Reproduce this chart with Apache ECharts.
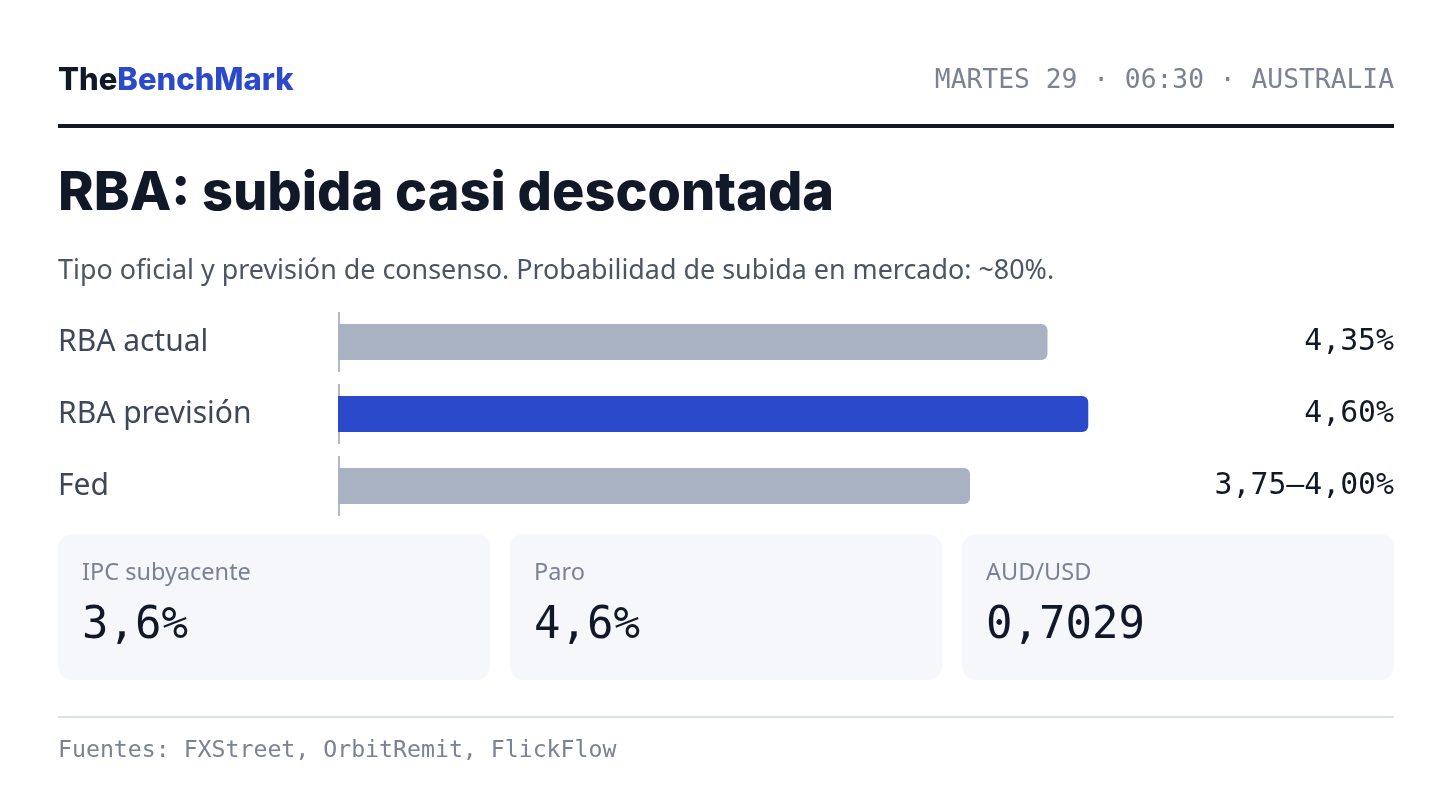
<!DOCTYPE html>
<html>
<head>
<meta charset="utf-8">
<script src="https://cdn.jsdelivr.net/npm/echarts@6/dist/echarts.min.js"></script>
<style>
html,body{margin:0;padding:0;background:#ffffff;}
#chart{width:1452px;height:806px;}
</style>
</head>
<body>
<div id="chart"></div>
<script>
// ---- data ----
var categories = ['RBA actual', 'RBA previsión', 'Fed'];
var rateValues = [4.35, 4.60, 3.875];
var valueLabels = ['4,35%', '4,60%', '3,75–4,00%'];
var barColors = ['#a9b2c2', '#2b4acb', '#a9b2c2'];
var cardLabels = ['IPC subyacente', 'Paro', 'AUD/USD'];
var cardValues = ['3,6%', '4,6%', '0,7029'];
var headerDate = 'MARTES 29 · 06:30 · AUSTRALIA';
var titleText = 'RBA: subida casi descontada';
var subtitleText = 'Tipo oficial y previsión de consenso. Probabilidad de subida en mercado: ~80%.';
var sourceText = 'Fuentes: FXStreet, OrbitRemit, FlickFlow';

var SANS = 'Noto Sans, sans-serif';
var BOLD = 'Inter, sans-serif';
var MONO = 'DejaVu Sans Mono, monospace';

var chart = echarts.init(document.getElementById('chart'), null, {renderer: 'canvas'});

var graphics = [
  {type: 'text', position: [58, 81], z: 10,
   style: {rich: {a: {fill: '#111827', font: '800 31px ' + BOLD}, b: {fill: '#2b4acb', font: '800 31px ' + BOLD}},
           text: '{a|The}{b|BenchMark}', verticalAlign: 'middle', align: 'left'}},
  {type: 'text', position: [1394, 81.5],
   style: {text: headerDate, fill: '#7a8294', font: '400 26.3px ' + MONO, align: 'right', verticalAlign: 'middle'}},
  {type: 'rect', shape: {x: 58, y: 124, width: 1336, height: 4}, style: {fill: '#111827'}},
  {type: 'text', position: [58, 194],
   style: {text: titleText, fill: '#111827', font: '800 54px ' + BOLD, align: 'left', verticalAlign: 'middle'}},
  {type: 'text', position: [58, 271],
   style: {text: subtitleText, fill: '#4b5566', font: '400 26.9px ' + SANS, align: 'left', verticalAlign: 'middle'}},
  {type: 'rect', shape: {x: 58, y: 716, width: 1336, height: 2}, style: {fill: '#dde1ea'}},
  {type: 'text', position: [58, 751],
   style: {text: sourceText, fill: '#7a8294', font: '400 23.2px ' + MONO, align: 'left', verticalAlign: 'middle'}}
];
for (var i = 0; i < cardLabels.length; i++) {
  var cx = 58 + i * 452;
  graphics.push({type: 'rect', shape: {x: cx, y: 534, width: 432, height: 146, r: 14}, style: {fill: '#f5f7fb'}, z: 1});
  graphics.push({type: 'text', position: [cx + 24, 573], z: 2,
    style: {text: cardLabels[i], fill: '#7a8294', font: '400 23.5px ' + SANS, align: 'left', verticalAlign: 'middle'}});
  graphics.push({type: 'text', position: [cx + 24, 627], z: 2,
    style: {text: cardValues[i], fill: '#111827', font: '400 44px ' + MONO, align: 'left', verticalAlign: 'middle'}});
}

var option = {
  animation: false,
  backgroundColor: '#ffffff',
  graphic: graphics,
  grid: {left: 338, top: 306, width: 815.5, height: 216, containLabel: false},
  xAxis: {type: 'value', min: 0, max: 5, show: false},
  yAxis: [
    {type: 'category', data: categories, inverse: true, position: 'left',
     axisLine: {show: false}, axisTick: {show: false},
     axisLabel: {align: 'left', margin: 280, color: '#3d4759', fontSize: 30, fontFamily: SANS, padding: [8, 0, 0, 0]}},
    {type: 'category', data: valueLabels, inverse: true, position: 'right',
     axisLine: {show: false}, axisTick: {show: false},
     axisLabel: {align: 'right', margin: 240.5, color: '#111827', fontSize: 29.8, fontFamily: MONO, padding: [4, 0, 0, 0]}}
  ],
  series: [
    {type: 'custom', yAxisIndex: 0, z: 1,
     renderItem: function (params, api) {
       var p = api.coord([0, api.value(1)]);
       var band = api.size([0, 1])[1];
       var half = band * 30 / 72;
       return {type: 'line', shape: {x1: p[0] + 1, y1: p[1] - half, x2: p[0] + 1, y2: p[1] + half},
               style: {stroke: '#b3b8c4', lineWidth: 2}};
     },
     data: categories.map(function (c, idx) { return [0, idx]; })},
    {type: 'bar', yAxisIndex: 0, z: 2, barWidth: 36,
     data: rateValues.map(function (v, idx) { return {value: v, itemStyle: {color: barColors[idx]}}; }),
     itemStyle: {borderRadius: [0, 6, 6, 0]}}
  ]
};
chart.setOption(option);
</script>
</body>
</html>
